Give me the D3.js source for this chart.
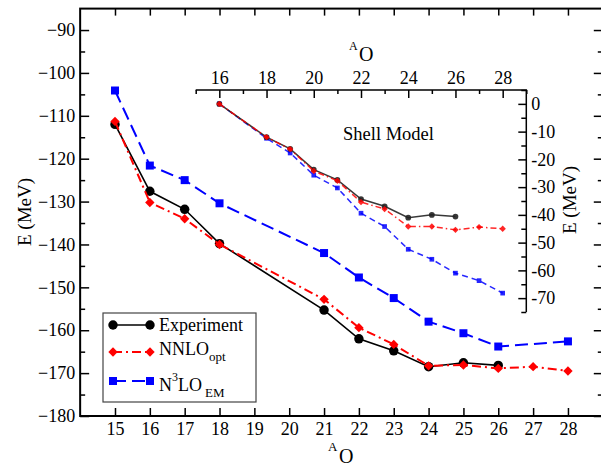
<!DOCTYPE html>
<html>
<head>
<meta charset="utf-8">
<script src="https://cdn.jsdelivr.net/npm/d3@7"></script>
<style>
  body { margin: 0; background: #fff; }
  svg text { font-family: "Liberation Serif", "Times New Roman", Tinos, "DejaVu Serif", serif; }
</style>
</head>
<body>
<div id="chart"></div>
<script>
// main panel data (binding energies, MeV)
var expA = [15, 16, 17, 18, 21, 22, 23, 24, 25, 26];
var expE = [-112.0, -127.6, -131.8, -139.8, -155.3, -162.0, -164.8, -168.5, -167.6, -168.2];
var nnloA = [15, 16, 17, 18, 21, 22, 23, 24, 25, 26, 27, 28];
var nnloE = [-111.3, -130.2, -134.0, -140.0, -152.8, -159.4, -163.3, -168.3, -168.1, -168.9, -168.5, -169.5];
var n3loA = [15, 16, 17, 18, 21, 22, 23, 24, 25, 26, 28];
var n3loE = [-104.1, -121.6, -125.0, -130.4, -142.0, -147.7, -152.5, -158.0, -160.7, -163.8, -162.6];

// inset data (shell model, relative to 16O)
var smExpA = [16, 18, 19, 20, 21, 22, 23, 24, 25, 26];
var smExpE = [0, -12.0, -16.2, -23.7, -27.4, -34.3, -36.9, -41.0, -40.0, -40.6];
var smNnloA = [16, 18, 19, 20, 21, 22, 23, 24, 25, 26, 27, 28];
var smNnloE = [0, -12.0, -16.3, -24.2, -27.7, -35.4, -37.9, -44.2, -44.2, -45.4, -44.4, -45.0];
var smN3loA = [16, 18, 19, 20, 21, 22, 23, 24, 25, 26, 27, 28];
var smN3loE = [0, -12.4, -17.7, -25.7, -30.3, -39.4, -44.2, -52.4, -56.0, -61.0, -63.7, -68.2];

var mainXTicks = d3.range(15, 29);
var mainYTicks = d3.range(-180, -85, 10);
var mainYMinor = d3.range(-175, -85, 10);
var insetXTicks = d3.range(16, 29, 2);
var insetXMinor = d3.range(15, 30, 2);
var insetYTicks = d3.range(-70, 1, 10);
var insetYMinor = d3.range(-75, 6, 10);

var serif = "'Liberation Serif', 'Times New Roman', Tinos, 'DejaVu Serif', serif";

var svgWidth = 601;
var svgHeight = 467;

var svg = d3.select("#chart")
  .append("svg")
  .attr("width", svgWidth)
  .attr("height", svgHeight)
  .attr("font-family", serif);

var x = d3.scaleLinear().domain([14, 29]).range([80.15, 602.8]);
var y = d3.scaleLinear().domain([-180, -85]).range([416, 8.6]);

var xi = d3.scaleLinear().domain([15, 29]).range([195.7, 526.3]);
var yi = d3.scaleLinear().domain([-75, 5]).range([312, 90]);

function styleAxis(g, size) {
  g.attr("font-family", serif)
    .attr("font-size", size);
  g.select(".domain").remove();
  g.selectAll(".tick line").attr("stroke", "#000").attr("stroke-width", 1.5);
  g.selectAll(".tick text").attr("fill", "#000");
}

// ---------- main axes ----------
svg.append("g")
  .attr("transform", "translate(0,416)")
  .call(d3.axisBottom(x).tickValues(mainXTicks).tickSize(-8).tickPadding(6).tickSizeOuter(0))
  .call(styleAxis, 18);

svg.append("g")
  .attr("transform", "translate(0," + y(-85) + ")")
  .call(d3.axisTop(x).tickValues(mainXTicks).tickSize(-7).tickFormat("").tickSizeOuter(0))
  .call(styleAxis, 18);

svg.append("g")
  .attr("transform", "translate(80.15,0)")
  .call(d3.axisLeft(y).tickValues(mainYTicks).tickSize(-9).tickPadding(5).tickSizeOuter(0))
  .call(styleAxis, 18);

svg.append("g")
  .attr("transform", "translate(80.15,0)")
  .call(d3.axisLeft(y).tickValues(mainYMinor).tickSize(-5).tickFormat("").tickSizeOuter(0))
  .call(styleAxis, 18);

svg.append("g")
  .attr("transform", "translate(602.8,0)")
  .call(d3.axisRight(y).tickValues(mainYTicks).tickSize(-9).tickFormat("").tickSizeOuter(0))
  .call(styleAxis, 18);

svg.append("g")
  .attr("transform", "translate(602.8,0)")
  .call(d3.axisRight(y).tickValues(mainYMinor).tickSize(-5).tickFormat("").tickSizeOuter(0))
  .call(styleAxis, 18);

svg.append("rect")
  .attr("x", x(14))
  .attr("y", y(-85))
  .attr("width", x(29) - x(14))
  .attr("height", y(-180) - y(-85))
  .attr("fill", "none")
  .attr("stroke", "#000")
  .attr("stroke-width", 2);

// axis titles
svg.append("text")
  .attr("x", 339)
  .attr("y", 463)
  .attr("font-size", 20)
  .text("O");
svg.append("text")
  .attr("x", 328)
  .attr("y", 451)
  .attr("font-size", 13)
  .text("A");

svg.append("text")
  .attr("transform", "translate(31,212) rotate(-90)")
  .attr("text-anchor", "middle")
  .attr("font-size", 19)
  .text("E (MeV)");

// ---------- inset axes ----------
svg.append("g")
  .attr("transform", "translate(0,90)")
  .call(d3.axisTop(xi).tickValues(insetXTicks).tickSize(-8).tickPadding(6).tickSizeOuter(0))
  .call(styleAxis, 18);

svg.append("g")
  .attr("transform", "translate(0,90)")
  .call(d3.axisTop(xi).tickValues(insetXMinor).tickSize(-4).tickFormat("").tickSizeOuter(0))
  .call(styleAxis, 18);

svg.append("g")
  .attr("transform", "translate(526.3,0)")
  .call(d3.axisRight(yi).tickValues(insetYTicks).tickSize(-8).tickPadding(5).tickSizeOuter(0)
    .tickFormat(function(d) { return d < 0 ? "-" + Math.abs(d) : d; }))
  .call(styleAxis, 18);

svg.append("g")
  .attr("transform", "translate(526.3,0)")
  .call(d3.axisRight(yi).tickValues(insetYMinor).tickSize(-5).tickFormat("").tickSizeOuter(0))
  .call(styleAxis, 18);

svg.append("path")
  .attr("d", "M" + xi(15) + ",90H" + xi(29) + "V" + yi(-75))
  .attr("fill", "none")
  .attr("stroke", "#000")
  .attr("stroke-width", 1.5);

svg.append("text")
  .attr("x", 359)
  .attr("y", 61)
  .attr("font-size", 20)
  .text("O");
svg.append("text")
  .attr("x", 349)
  .attr("y", 50)
  .attr("font-size", 12)
  .text("A");

svg.append("text")
  .attr("transform", "translate(576,200) rotate(-90)")
  .attr("text-anchor", "middle")
  .attr("font-size", 19)
  .text("E (MeV)");

svg.append("text")
  .attr("x", 343)
  .attr("y", 140)
  .attr("font-size", 18.5)
  .text("Shell Model");

// ---------- series ----------
var circle = d3.symbol().type(d3.symbolCircle);
var square = d3.symbol().type(d3.symbolSquare);

function drawSeries(A, E, xs, ys, opt) {
  var pts = A.map(function(a, i) { return [xs(a), ys(E[i])]; });
  svg.append("path")
    .attr("d", d3.line()(pts))
    .attr("fill", "none")
    .attr("stroke", opt.color)
    .attr("stroke-width", opt.width)
    .attr("stroke-dasharray", opt.dash)
    .attr("opacity", opt.opacity || 1);
  svg.append("g").selectAll("path")
    .data(pts)
    .enter()
    .append("path")
    .attr("d", opt.shape === "circle" ? circle.size(opt.size)() : square.size(opt.size)())
    .attr("transform", function(d) {
      return "translate(" + d[0] + "," + d[1] + ")" + (opt.shape === "diamond" ? " rotate(45)" : "");
    })
    .attr("fill", opt.color)
    .attr("opacity", opt.opacity || 1);
}

// inset first (main markers sit on top where they cross)
drawSeries(smN3loA, smN3loE, xi, yi, { color: "#0000ff", width: 1.5, dash: "6,4", shape: "square", size: 22, opacity: 0.85 });
drawSeries(smExpA, smExpE, xi, yi, { color: "#222", width: 1.5, dash: null, shape: "circle", size: 26, opacity: 0.9 });
drawSeries(smNnloA, smNnloE, xi, yi, { color: "#ff0000", width: 1.5, dash: "6,3,1.5,3", shape: "diamond", size: 20, opacity: 0.85 });

drawSeries(expA, expE, x, y, { color: "#000", width: 1.6, dash: null, shape: "circle", size: 70 });
drawSeries(nnloA, nnloE, x, y, { color: "#ff0000", width: 2, dash: "9,4,2,4", shape: "diamond", size: 44 });
drawSeries(n3loA, n3loE, x, y, { color: "#0000ff", width: 2, dash: "13,6", shape: "square", size: 64 });

// ---------- legend ----------
var legend = svg.append("g");
legend.append("rect")
  .attr("x", 103)
  .attr("y", 313)
  .attr("width", 153)
  .attr("height", 89)
  .attr("fill", "#fff")
  .attr("stroke", "#444")
  .attr("stroke-width", 1.2);

var legendRows = [
  { y: 325, color: "#000", dash: null, shape: "circle", size: 70, width: 1.6 },
  { y: 352, color: "#ff0000", dash: "9,4,2,4", shape: "diamond", size: 44, width: 2 },
  { y: 381, color: "#0000ff", dash: "13,6", shape: "square", size: 64, width: 2 }
];
legendRows.forEach(function(r) {
  legend.append("line")
    .attr("x1", 113).attr("x2", 150)
    .attr("y1", r.y).attr("y2", r.y)
    .attr("stroke", r.color)
    .attr("stroke-width", r.width)
    .attr("stroke-dasharray", r.dash);
  [113, 150].forEach(function(px) {
    legend.append("path")
      .attr("d", r.shape === "circle" ? circle.size(r.size)() : square.size(r.size)())
      .attr("transform", "translate(" + px + "," + r.y + ")" + (r.shape === "diamond" ? " rotate(45)" : ""))
      .attr("fill", r.color);
  });
});

legend.append("text").attr("x", 159).attr("y", 331).attr("font-size", 18).text("Experiment");

var t2 = legend.append("text").attr("x", 159).attr("y", 355).attr("font-size", 18);
t2.append("tspan").text("NNLO");
t2.append("tspan").attr("font-size", 13).attr("dy", 6).text("opt");

var t3 = legend.append("text").attr("x", 159).attr("y", 391).attr("font-size", 18);
t3.append("tspan").text("N");
t3.append("tspan").attr("font-size", 12).attr("dy", -10).text("3");
t3.append("tspan").attr("dy", 10).text("LO");
t3.append("tspan").attr("font-size", 13).attr("dy", 6).attr("dx", 3).text("EM");
</script>
</body>
</html>
